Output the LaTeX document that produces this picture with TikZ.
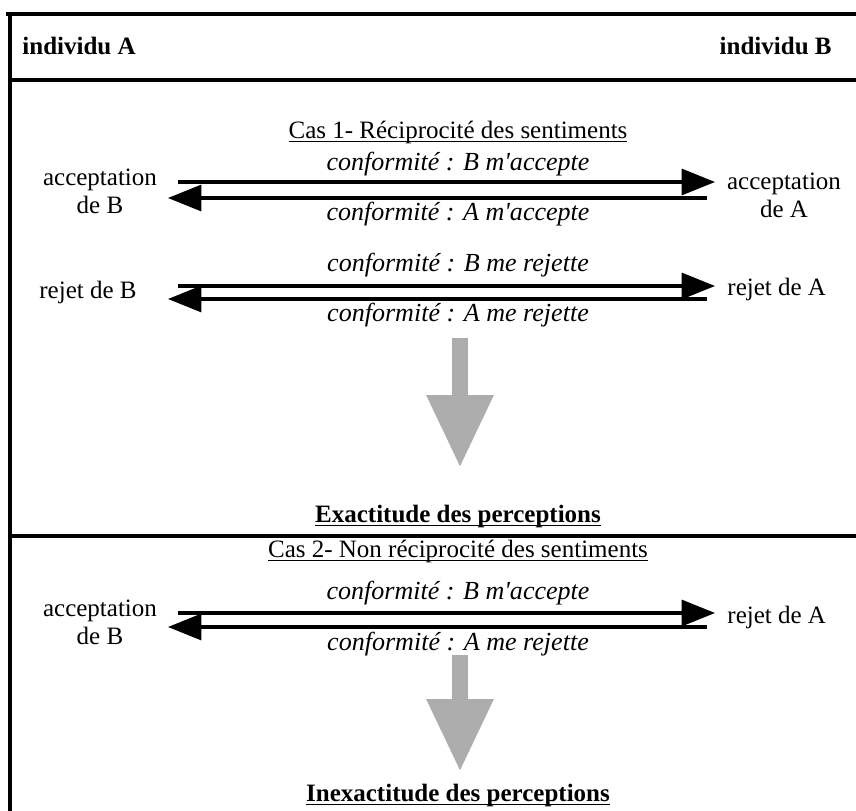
\documentclass[tikz,border=0pt]{standalone}
\usepackage{fontspec}
\setmainfont{Liberation Serif}
\usetikzlibrary{arrows.meta}

\newcommand\souligne[1]{\underline{\smash{#1}}}

\begin{document}
\begin{tikzpicture}[x=0.48pt,y=-0.48pt,font=\fontsize{12}{13.5}\selectfont]
\definecolor{GrisFleche}{gray}{0.68}
\def \e{1.45pt}   % epaisseur des traits noirs
\def \cx{458}     % axe des textes du milieu
\tikzset{
  gras/.style={font=\fontsize{12}{13.5}\selectfont\bfseries, inner sep=0pt},
  conf/.style={font=\fontsize{12.5}{14}\selectfont\itshape, inner sep=0pt},
  etiq/.style={align=center, inner sep=0pt},
  fleche/.style={line width=\e, -{Triangle[length=16pt,width=12.5pt]}},
  grosse/.style={GrisFleche, line width=8pt, -{Triangle[length=35pt,width=30pt]}},
}
\useasboundingbox (0,0) rectangle (856,811);

% cadre ouvert a droite et en bas
\draw[line width=\e] (856,14) -- (6,14) -- (10,14) -- (10,811);
\draw[line width=\e] (10,80) -- (856,80);
\draw[line width=\e] (10,536) -- (856,536);

\node[gras, anchor=base west] (indA) at (22,55) {individu A};
\node[gras, anchor=base east] (indB) at (832,55) {individu B};

%%% Cas 1
\node[inner sep=0pt, anchor=base] (cas1) at (\cx,139) {\souligne{Cas 1- Réciprocité des sentiments}};

\node[etiq] (accB) at (100,191) {acceptation\\de B};
\node[etiq] (accA) at (784,195) {acceptation\\de A};
\coordinate (a1) at (178,182);  \coordinate (a1t) at (715,182);
\coordinate (b1) at (707,198);  \coordinate (b1t) at (168,198);
\draw[fleche] (a1) -- (a1t);
\draw[fleche] (b1) -- (b1t);
\node[conf] (confBacc) at (\cx,164) {conformité : B m\textquotesingle accepte};
\node[conf] (confAacc) at (\cx,214) {conformité : A m\textquotesingle accepte};

\node[etiq] (rejB) at (88,292) {rejet de B};
\node[etiq, anchor=west] (rejA) at (727,289) {rejet de A};
\coordinate (a2) at (178,286);  \coordinate (a2t) at (715,286);
\coordinate (b2) at (707,299);  \coordinate (b2t) at (168,299);
\draw[fleche] (a2) -- (a2t);
\draw[fleche] (b2) -- (b2t);
\node[conf] (confBrej) at (\cx,265) {conformité : B me rejette};
\node[conf] (confArej) at (\cx,315) {conformité : A me rejette};

\coordinate (g1) at (460,338);  \coordinate (g1t) at (460,468);
\draw[grosse] (g1) -- (g1t);
\node[gras, anchor=base] (exact) at (\cx,522) {\souligne{Exactitude des perceptions}};

%%% Cas 2
\node[inner sep=0pt, anchor=base] (cas2) at (\cx,557) {\souligne{Cas 2- Non réciprocité des sentiments}};

\node[etiq] (accB2) at (100,622) {acceptation\\de B};
\node[etiq, anchor=west] (rejA2) at (727,617) {rejet de A};
\coordinate (a3) at (178,613);  \coordinate (a3t) at (715,613);
\coordinate (b3) at (707,627);  \coordinate (b3t) at (168,627);
\draw[fleche] (a3) -- (a3t);
\draw[fleche] (b3) -- (b3t);
\node[conf] (confBacc2) at (\cx,593) {conformité : B m\textquotesingle accepte};
\node[conf] (confArej2) at (\cx,644) {conformité : A me rejette};

\coordinate (g2) at (460,655);  \coordinate (g2t) at (460,772);
\draw[grosse] (g2) -- (g2t);
\node[gras, anchor=base] (inexact) at (\cx,801) {\souligne{Inexactitude des perceptions}};

\end{tikzpicture}
\end{document}
